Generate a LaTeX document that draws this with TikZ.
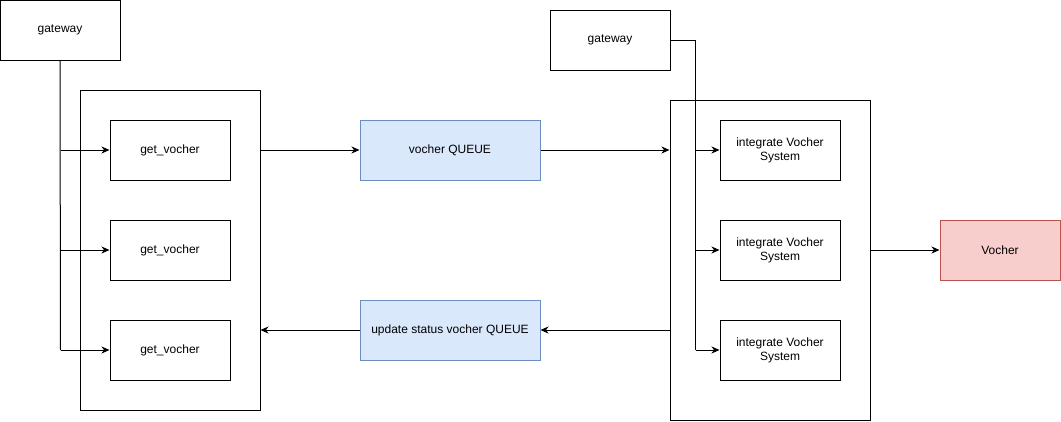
\documentclass[tikz,border=0pt]{standalone}
\usepackage{fontspec}
\setmainfont{Liberation Sans}
\usetikzlibrary{arrows.meta}
\definecolor{qfill}{HTML}{DAE8FC}
\definecolor{qdraw}{HTML}{6C8EBF}
\definecolor{rfill}{HTML}{F8CECC}
\definecolor{rdraw}{HTML}{B85450}
\begin{document}
\begin{tikzpicture}[x=1pt,y=-1pt,line width=1pt,
  box/.style={draw=black,fill=white,minimum width=120pt,minimum height=60pt,inner sep=0pt,align=center,font=\fontsize{12}{14}\selectfont},
  queue/.style={box,draw=qdraw,fill=qfill,minimum width=180pt},
  target/.style={box,draw=rdraw,fill=rfill},
  frame/.style={draw=black,fill=white,inner sep=0pt},
  conn/.style={-{Stealth[length=8pt,width=7pt,inset=2.5pt]}}]
\useasboundingbox (0,0) rectangle (1061,421);
% containers
\node[frame,minimum width=180pt,minimum height=320pt] (lc) at (170,250) {};
\node[frame,minimum width=200pt,minimum height=320pt] (rc) at (770,260) {};
% nodes
\node[box] (gw1) at (60,30) {gateway};
\node[box] (g1) at (170,150) {get\_vocher};
\node[box] (g2) at (170,250) {get\_vocher};
\node[box] (g3) at (170,350) {get\_vocher};
\node[queue] (q1) at (450,150) {vocher QUEUE};
\node[queue] (q2) at (450,330) {update status vocher QUEUE};
\node[box] (gw2) at (610,40) {gateway};
\node[box] (i1) at (780,150) {integrate Vocher\\System};
\node[box] (i2) at (780,250) {integrate Vocher\\System};
\node[box] (i3) at (780,350) {integrate Vocher\\System};
\node[target] (v) at (1000,250) {Vocher};
% coordinates
\coordinate (lb) at (60.5,150);
\coordinate (rb) at (695.5,40);
% left gateway fan-out
\draw (gw1.south) -- (60.5,350);
\draw[conn] (60.5,150) -- (g1.west);
\draw[conn] (60.5,250) -- (g2.west);
\draw[conn] (60.5,350) -- (g3.west);
% right gateway fan-out
\draw (gw2.east) -- (rb) -- (695.5,350);
\draw[conn] (695.5,150) -- (i1.west);
\draw[conn] (695.5,250) -- (i2.west);
\draw[conn] (695.5,350) -- (i3.west);
% queues
\draw[conn] (lc.east |- q1) -- (q1.west);
\draw[conn] (q1.east) -- (rc.west |- q1);
\draw[conn] (rc.west |- q2) -- (q2.east);
\draw[conn] (q2.west) -- (lc.east |- q2);
\draw[conn] (rc.east |- v) -- (v.west);
\end{tikzpicture}
\end{document}
